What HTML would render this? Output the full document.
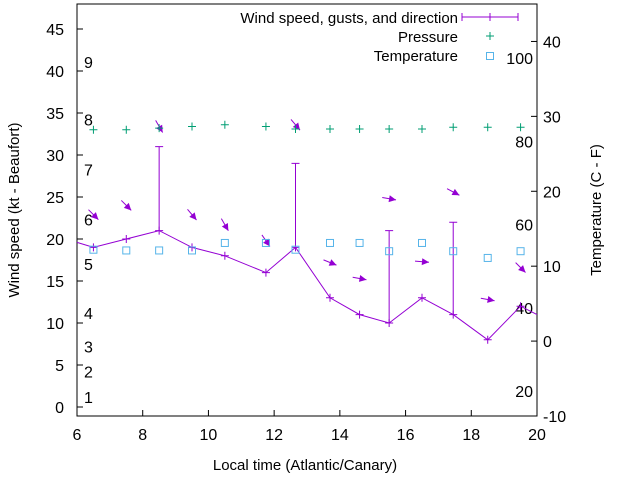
<!DOCTYPE html>
<html><head><meta charset="utf-8"><style>
body{margin:0;background:#fff}
svg{font-family:"Liberation Sans",Arial,sans-serif}
</style></head><body>
<svg id="c" width="640" height="480" viewBox="0 0 640 480"></svg>
<script>
const times=[6.5,7.5,8.5,9.5,10.5,11.75,12.65,13.7,14.6,15.5,16.5,17.45,18.5,19.5];
const windSpeed=[19,20,21,19,18,16,19,13,11,10,13,11,8,12];
const lineStartWind=19.6, lineEndWind=11;
const gusts=[null,null,31,null,null,null,29,null,null,21,null,22,null,null];
const pressure=[33,33,33.2,33.4,33.6,33.4,33.1,33.1,33.1,33.1,33.1,33.3,33.3,33.3];
const temperature=[12.2,12.1,12.1,12.1,13.1,13.1,12.2,13.1,13.1,12.0,13.1,12.0,11.1,12.0];
const arrowY=[22.9,24,33.4,22.9,21.7,19.8,33.6,17.2,15.3,24.8,17.3,25.6,12.8,16.6];
const arrowDir=[135,135,150,140,150,145,140,112,100,100,95,118,100,135];
const xTicks=[6,8,10,12,14,16,18,20];
const yTicks=[0,5,10,15,20,25,30,35,40,45];
const y2Ticks=[-10,0,10,20,30,40];
const beaufort=[[1,1.2],[2,4.2],[3,7.2],[4,11.2],[5,17],[6,22.3],[7,28.3],[8,34.2],[9,41.1]];
const fahrenheit=[20,40,60,80,100];

const L=77,R=537,T=4,B=416;
const X=v=>L+(v-6)/(14)*(R-L);
const Y=v=>407-v*8.4;
const Y2=v=>B-(v+10)/55*(B-T);
const svg=document.getElementById('c');
const NS='http://www.w3.org/2000/svg';
function el(tag,attrs,parent){const e=document.createElementNS(NS,tag);for(const k in attrs)e.setAttribute(k,attrs[k]);(parent||svg).appendChild(e);return e;}
function txt(x,y,s,anchor,size,parent){const t=el('text',{x:x,y:y,'text-anchor':anchor||'middle','font-size':size||16,fill:'#000'},parent);t.textContent=s;return t;}

// axes
const ax=el('g',{});
el('rect',{x:L,y:T,width:R-L,height:B-T,fill:'none',stroke:'#000','stroke-width':1},ax);
xTicks.forEach(v=>{el('line',{x1:X(v),x2:X(v),y1:B,y2:B-6,stroke:'#000'},ax);const t=txt(X(v),440,String(v),'middle',16,ax);});
yTicks.forEach(v=>{el('line',{x1:L,x2:L+6,y1:Y(v),y2:Y(v),stroke:'#000'},ax);const t=txt(64,Y(v)+6,String(v),'end',16,ax);});
y2Ticks.forEach(v=>{el('line',{x1:R,x2:R-6,y1:Y2(v),y2:Y2(v),stroke:'#000'},ax);const t=txt(543,Y2(v)+6,String(v),'start',16,ax);});
beaufort.forEach(b=>{const t=txt(84,Y(b[1])+6,String(b[0]),'start',16,ax);});
fahrenheit.forEach(f=>{const c=(f-32)*5/9;const t=txt(533,Y2(c)+6,String(f),'end',16,ax);});
let t=txt(305,470,'Local time (Atlantic/Canary)','middle',15);
t=txt(0,0,'Wind speed (kt - Beaufort)','middle',15);t.setAttribute('transform','translate(19,210) rotate(-90)');
t=txt(0,0,'Temperature (C - F)','middle',15);t.setAttribute('transform','translate(601,210) rotate(-90)');

const P='#9400d3',G='#009e73',S='#56b4e9';
// wind line
const pts=[[L,Y(lineStartWind)]].concat(times.map((tm,i)=>[X(tm),Y(windSpeed[i])])).concat([[R,Y(lineEndWind)]]);
const wl=el('polyline',{points:pts.map(p=>p.join(',')).join(' '),fill:'none',stroke:P,'stroke-width':1});

times.forEach((tm,i)=>{const x=X(tm),y=Y(windSpeed[i]);const m=el('path',{d:`M${x-4},${y}h8M${x},${y-4}v8`,stroke:P,'stroke-width':1});
 if(gusts[i]!=null){const g=el('path',{d:`M${x},${y}V${Y(gusts[i])}M${x-4},${Y(gusts[i])}h8`,stroke:P,'stroke-width':1,fill:'none'});}});
// arrows
times.forEach((tm,i)=>{const x=X(tm),y=Y(arrowY[i]);const a=arrowDir[i]*Math.PI/180;const len=14;const ux=Math.sin(a),uy=-Math.cos(a);
 const hx=x+ux*len/2,hy=y+uy*len/2,tx=x-ux*len/2,ty=y-uy*len/2;
 const px=-uy,py=ux;const bx=hx-ux*7,by=hy-uy*7;
 const g=el('g',{});
 el('line',{x1:tx,y1:ty,x2:hx,y2:hy,stroke:P,'stroke-width':1},g);
 el('polygon',{points:`${hx},${hy} ${bx+px*3.5},${by+py*3.5} ${bx-px*3.5},${by-py*3.5}`,fill:P},g);});
// pressure
times.forEach((tm,i)=>{const x=X(tm),y=Y(pressure[i]);const m=el('path',{d:`M${x-4},${y}h8M${x},${y-4}v8`,stroke:G,'stroke-width':1});});
// temperature
times.forEach((tm,i)=>{const x=X(tm),y=Y2(temperature[i]);const m=el('rect',{x:x-3.5,y:y-3.5,width:7,height:7,fill:'none',stroke:S,'stroke-width':1});});
// legend
const lg=el('g',{});
[['Wind speed, gusts, and direction',23],['Pressure',42],['Temperature',61]].forEach((e,i)=>{const tt=txt(458,e[1],e[0],'end',15,lg);});
el('path',{d:'M462,17H518M462,13v8M518,13v8M490,13v8',stroke:P,fill:'none'},lg);
el('path',{d:'M486,36h8M490,32v8',stroke:G},lg);
el('rect',{x:486.5,y:52.5,width:7,height:7,fill:'none',stroke:S},lg);
</script>
</body></html>
